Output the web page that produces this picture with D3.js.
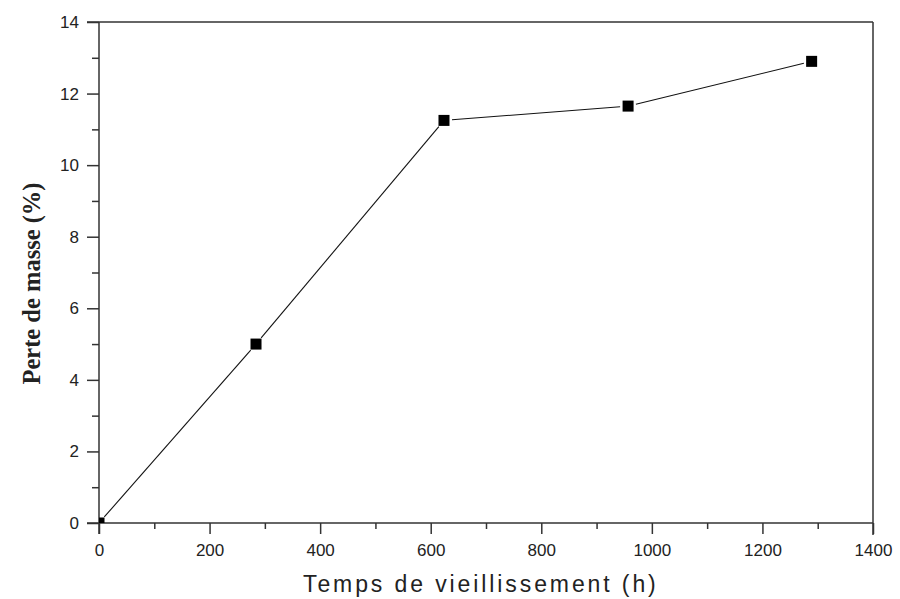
<!DOCTYPE html>
<html>
<head>
<meta charset="utf-8">
<script src="https://cdn.jsdelivr.net/npm/d3@7"></script>
<style>
  html, body { margin: 0; padding: 0; background: #fff; }
  svg { display: block; }
</style>
</head>
<body>
<svg id="chart" width="900" height="599"></svg>
<script>
// Aging time (h) and mass loss (%)
const hours = [0, 284, 624, 957, 1289];
const massLoss = [0, 5.0, 11.25, 11.65, 12.9];
const xTicks = [0, 200, 400, 600, 800, 1000, 1200, 1400];
const yTicks = [0, 2, 4, 6, 8, 10, 12, 14];

(function () {
  const svg = d3.select("#chart");
  const plotLeft = 99, plotRight = 873, plotTop = 22, plotBottom = 523;
  const sans = "'Liberation Sans', Arial, sans-serif";

  const x = d3.scaleLinear().domain([0, 1400]).range([plotLeft, plotRight]);
  const y = d3.scaleLinear().domain([0, 14]).range([plotBottom, plotTop]);

  const axisColor = "#333";

  svg.append("defs").append("clipPath").attr("id", "plot-clip")
    .append("rect").attr("x", plotLeft).attr("y", plotTop)
    .attr("width", plotRight - plotLeft).attr("height", plotBottom - plotTop);

  // Frame (top and right sides)
  svg.append("line").attr("x1", plotLeft - 12).attr("x2", plotRight).attr("y1", plotTop).attr("y2", plotTop)
    .attr("stroke", axisColor).attr("stroke-width", 1.5);
  svg.append("line").attr("x1", plotRight).attr("x2", plotRight).attr("y1", plotTop).attr("y2", plotBottom + 12)
    .attr("stroke", axisColor).attr("stroke-width", 1.5);

  // Bottom axis
  const xAxis = svg.append("g").attr("transform", `translate(0,${plotBottom})`)
    .call(d3.axisBottom(x).tickValues(xTicks).tickFormat(d3.format("d"))
      .tickSize(11).tickSizeOuter(0).tickPadding(10));
  const xMinor = svg.append("g").attr("transform", `translate(0,${plotBottom})`)
    .call(d3.axisBottom(x).tickValues(d3.range(100, 1400, 200)).tickSize(6).tickFormat(""));

  // Left axis
  const yAxis = svg.append("g").attr("transform", `translate(${plotLeft},0)`)
    .call(d3.axisLeft(y).tickValues(yTicks).tickFormat(d3.format("d"))
      .tickSize(12).tickSizeOuter(0).tickPadding(8));
  const yMinor = svg.append("g").attr("transform", `translate(${plotLeft},0)`)
    .call(d3.axisLeft(y).tickValues(d3.range(1, 14, 2)).tickSize(7).tickFormat(""));

  [xAxis, xMinor, yAxis, yMinor].forEach(g => {
    g.select(".domain").remove();
    g.selectAll(".tick line").attr("stroke", axisColor).attr("stroke-width", 1.5);
    g.selectAll(".tick text").attr("fill", "#222")
      .style("font-family", sans).style("font-size", "17px");
  });

  // Axis lines, extended to meet the outer ticks
  svg.append("line").attr("x1", plotLeft - 12).attr("x2", plotRight).attr("y1", plotBottom).attr("y2", plotBottom)
    .attr("stroke", axisColor).attr("stroke-width", 1.5);
  svg.append("line").attr("x1", plotLeft).attr("x2", plotLeft).attr("y1", plotTop).attr("y2", plotBottom + 11)
    .attr("stroke", axisColor).attr("stroke-width", 1.5);

  // Connecting segments, stopping short of each marker
  const pts = hours.map((h, i) => [h, massLoss[i]]);
  const gap = 8;
  const segs = d3.pairs(pts).map(([a, b]) => {
    const x1 = x(a[0]), y1 = y(a[1]), x2 = x(b[0]), y2 = y(b[1]);
    const len = Math.hypot(x2 - x1, y2 - y1);
    const ux = (x2 - x1) / len, uy = (y2 - y1) / len;
    return [[x1 + ux * gap, y1 + uy * gap], [x2 - ux * gap, y2 - uy * gap]];
  });
  svg.append("g").selectAll("path").data(segs).join("path")
    .attr("fill", "none")
    .attr("stroke", "#111")
    .attr("stroke-width", 1.1)
    .attr("d", d => d3.line()(d));

  // Square markers, clipped to the plot area
  const ms = 11;
  svg.append("g").attr("clip-path", "url(#plot-clip)")
    .selectAll("rect").data(pts).join("rect")
    .attr("x", d => x(d[0]) - ms / 2)
    .attr("y", d => y(d[1]) - ms / 2)
    .attr("width", ms).attr("height", ms)
    .attr("fill", "#000");

  // Axis titles
  svg.append("text")
    .attr("x", 303).attr("y", 592)
    .attr("text-anchor", "start")
    .style("font-family", sans)
    .style("font-size", "23px")
    .style("letter-spacing", "2.9px")
    .attr("fill", "#222")
    .text("Temps de vieillissement (h)");

  svg.append("text")
    .attr("transform", `translate(40,${(182 + 385) / 2}) rotate(-90)`)
    .attr("text-anchor", "middle")
    .style("font-family", "'Liberation Serif', 'Times New Roman', serif")
    .style("font-size", "24.5px")
    .style("font-weight", "bold")
    .attr("fill", "#222")
    .text("Perte de masse (%)");
})();
</script>
</body>
</html>
